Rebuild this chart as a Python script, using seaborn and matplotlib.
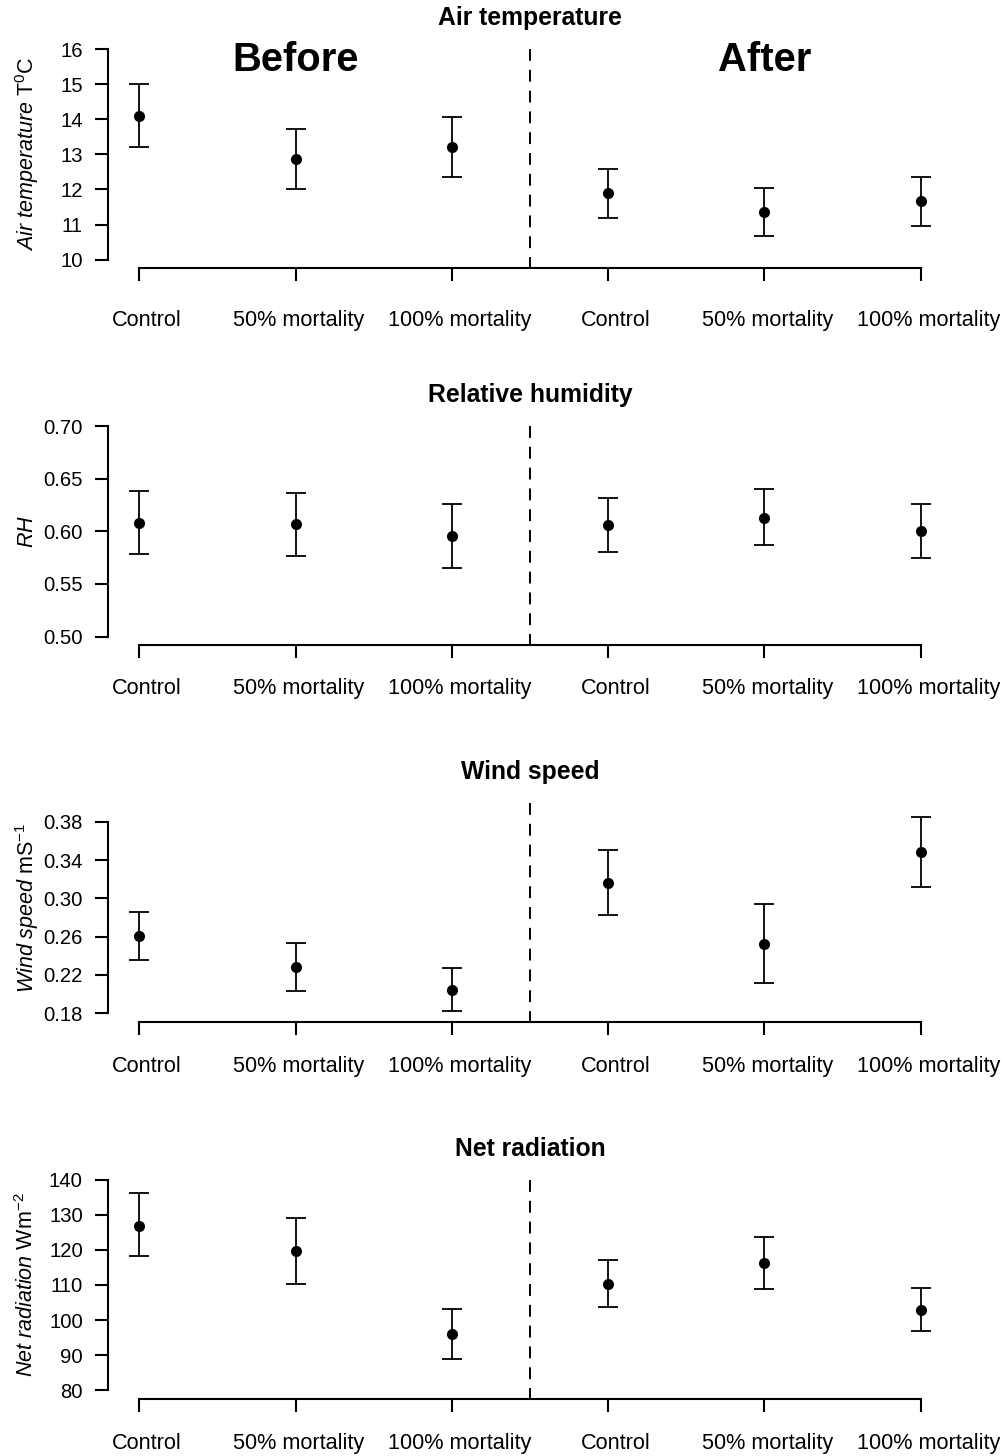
import numpy as np
import pandas as pd
import matplotlib
matplotlib.use("Agg")
import matplotlib.pyplot as plt
import matplotlib.transforms as mtransforms
from matplotlib.ticker import FormatStrFormatter
import seaborn as sns

# Treatment groups, three before and three after the mortality event
treatments = ["Control", "50% mortality", "100% mortality",
              "Control", "50% mortality", "100% mortality"]
periods = ["Before", "Before", "Before", "After", "After", "After"]

# Air temperature (deg C): mean and interval limits
air_mean = [14.10, 12.88, 13.20, 11.89, 11.35, 11.66]
air_low = [13.21, 12.02, 12.34, 11.20, 10.67, 10.97]
air_high = [14.99, 13.73, 14.06, 12.58, 12.03, 12.35]

# Relative humidity (fraction)
rh_mean = [0.608, 0.6065, 0.5955, 0.606, 0.613, 0.600]
rh_low = [0.578, 0.577, 0.5655, 0.580, 0.587, 0.5745]
rh_high = [0.638, 0.6365, 0.6255, 0.632, 0.640, 0.6255]

# Wind speed (m/s)
wind_mean = [0.2603, 0.2282, 0.2048, 0.3165, 0.2526, 0.3482]
wind_low = [0.2355, 0.2037, 0.1821, 0.2826, 0.2111, 0.3120]
wind_high = [0.2858, 0.2530, 0.2275, 0.3510, 0.2945, 0.3852]

# Net radiation (W/m2)
rad_mean = [126.9, 119.8, 96.0, 110.4, 116.3, 102.9]
rad_low = [118.1, 110.3, 89.0, 103.6, 108.95, 96.8]
rad_high = [136.1, 129.1, 103.1, 117.2, 123.7, 109.0]

# Tick values and axis ranges for each panel
air_ticks = [10, 11, 12, 13, 14, 15, 16]
rh_ticks = [0.50, 0.55, 0.60, 0.65, 0.70]
wind_ticks = [0.18, 0.22, 0.26, 0.30, 0.34, 0.38]
rad_ticks = [80, 90, 100, 110, 120, 130, 140]

air_range = (10, 16)
rh_range = (0.50, 0.70)
wind_range = (0.18, 0.40)
rad_range = (80, 140)

sns.set_theme(style="ticks")
plt.rcParams["font.family"] = ["Liberation Sans", "DejaVu Sans"]
plt.rcParams["mathtext.fontset"] = "custom"
plt.rcParams["mathtext.rm"] = "Liberation Sans"
plt.rcParams["mathtext.it"] = "Liberation Sans:italic"
plt.rcParams["mathtext.bf"] = "Liberation Sans:bold"

panels = [
    dict(title="Air temperature", ylabel=r"$\mathit{Air\ temperature}$ T$^{0}$C",
         mean=air_mean, low=air_low, high=air_high, ticks=air_ticks,
         lim=air_range, fmt="%d", xpad=21.0),
    dict(title="Relative humidity", ylabel=r"$\mathit{RH}$",
         mean=rh_mean, low=rh_low, high=rh_high, ticks=rh_ticks,
         lim=rh_range, fmt="%.2f", xpad=14.4),
    dict(title="Wind speed", ylabel=r"$\mathit{Wind\ speed}$ mS$^{-1}$",
         mean=wind_mean, low=wind_low, high=wind_high, ticks=wind_ticks,
         lim=wind_range, fmt="%.2f", xpad=15.0),
    dict(title="Net radiation", ylabel=r"$\mathit{Net\ radiation}$ Wm$^{-2}$",
         mean=rad_mean, low=rad_low, high=rad_high, ticks=rad_ticks,
         lim=rad_range, fmt="%d", xpad=15.6),
]

fig = plt.figure(figsize=(10.05, 14.56), dpi=100)
bottoms = [0.8159, 0.5570, 0.2983, 0.0394]
ax_left, ax_width, ax_height = 0.1075, 0.8398, 0.1562

positions = np.arange(1, len(treatments) + 1)
# small horizontal nudges (pixels) applied to the category labels
label_shift_px = [7.5, 3.0, 8.0, 8.0, 3.5, 7.5]
lw_axis = 1.5

for spec, bottom in zip(panels, bottoms):
    ax = fig.add_axes([ax_left, bottom, ax_width, ax_height])
    df = pd.DataFrame({
        "pos": positions,
        "treatment": treatments,
        "period": periods,
        "mean": spec["mean"],
        "low": spec["low"],
        "high": spec["high"],
    })

    ax.errorbar(df["pos"], df["mean"],
                yerr=[df["mean"] - df["low"], df["high"] - df["mean"]],
                fmt="none", ecolor="black", elinewidth=1.3,
                capsize=7.2, capthick=1.3, zorder=2)
    sns.scatterplot(data=df, x="pos", y="mean", ax=ax, color="black",
                    s=64, linewidth=0, legend=False, zorder=3)

    lo, hi = spec["lim"]
    span = hi - lo
    ymin, ymax = lo - 0.04 * span, hi + 0.04 * span
    ax.set_ylim(ymin, ymax)
    ax.set_xlim(0.8, 6.2)

    # Divider between the two sampling periods
    ax.plot([3.5, 3.5], [hi, ymin], color="black", lw=1.4,
            linestyle=(0, (6.1, 4.6)), clip_on=False, zorder=1)

    ticks = spec["ticks"]
    ax.set_yticks(ticks)
    ax.yaxis.set_major_formatter(FormatStrFormatter(spec["fmt"]))
    ax.set_xticks(positions)
    ax.set_xticklabels(treatments)

    for side in ["top", "right"]:
        ax.spines[side].set_visible(False)
    ax.spines["left"].set_bounds(ticks[0], ticks[-1])
    ax.spines["bottom"].set_bounds(1, 6)
    for side in ["left", "bottom"]:
        ax.spines[side].set_linewidth(lw_axis)
        ax.spines[side].set_color("black")

    ax.tick_params(axis="x", direction="out", length=9.4, width=lw_axis,
                   pad=spec["xpad"], labelsize=15.6, colors="black")
    ax.tick_params(axis="y", direction="out", length=9.2, width=lw_axis,
                   pad=9.0, labelsize=14.6, colors="black")

    for lab, dx in zip(ax.get_xticklabels(), label_shift_px):
        shift = mtransforms.ScaledTranslation(dx / 100.0, 0, fig.dpi_scale_trans)
        lab.set_transform(lab.get_transform() + shift)

    ax.set_xlabel("")
    ax.set_ylabel(spec["ylabel"], fontsize=15.5, color="black", va="center")
    ax.yaxis.set_label_coords(-0.096, 0.5)
    ax.set_title(spec["title"], fontsize=17.8, fontweight="bold",
                 color="black", pad=11)
    ax.set_facecolor("white")

    if spec["title"] == "Air temperature":
        for x_txt, label in [(2, "Before"), (5, "After")]:
            ax.text(x_txt, 15.385, label, ha="center", va="baseline",
                    fontsize=28.8, fontweight="bold", color="black")

fig.savefig("out.png", dpi=100, facecolor="white")
